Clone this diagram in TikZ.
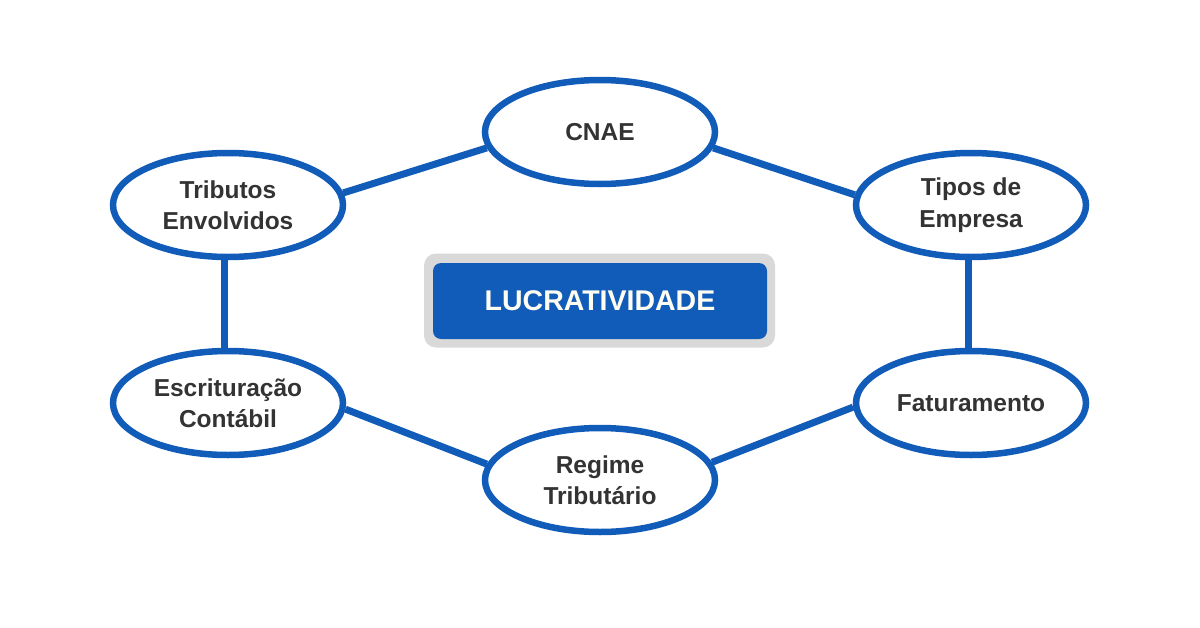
\documentclass[tikz,border=0pt]{standalone}
\usepackage{fontspec}
\setmainfont{Liberation Sans}
\usetikzlibrary{shapes.geometric}
\definecolor{mainblue}{HTML}{125CB9}
\definecolor{boxgray}{HTML}{D9D9D9}
\definecolor{txt}{HTML}{333333}
\definecolor{cream}{HTML}{FFFDF2}
\tikzset{
  topic/.style={ellipse, draw=mainblue, line width=6.5pt, fill=white,
    minimum width=230pt, minimum height=104pt, inner sep=0pt,
    align=center, text=txt, font=\fontsize{24.5}{31.5}\selectfont\bfseries},
  link/.style={draw=mainblue, line width=7pt},
}
\begin{document}
\begin{tikzpicture}[x=1pt,y=-1pt]
\useasboundingbox[fill=white] (0,0) rectangle (1200,627);
% centre box
\node[fill=boxgray, rounded corners=12pt, minimum width=351pt, minimum height=94pt, inner sep=0pt] (outer) at (599.5,300.5) {};
\node[fill=mainblue, rounded corners=8pt, minimum width=334pt, minimum height=76pt, inner sep=0pt,
  text=cream, font=\fontsize{28.5}{34}\selectfont\bfseries] (lucr) at (600,301) {LUCRATIVIDADE};
% topics
\node[topic] (cnae) at (600,132) {CNAE};
\node[topic] (tipos) at (971,205) {Tipos de\\Empresa};
\node[topic] (fat) at (971,403) {Faturamento};
\node[topic] (regime) at (600,480) {Regime\\Tributário};
\node[topic] (escr) at (228,403) {Escrituração\\Contábil};
\node[topic] (trib) at (228,205) {Tributos\\Envolvidos};
% connectors
\draw[link] (cnae.188) -- (trib.6);
\draw[link] (cnae.352) -- (tipos.175);
\draw[link] (tipos.267) -- (fat.93);
\draw[link] (fat.182.5) -- (regime.9);
\draw[link] (escr.357.5) -- (regime.172);
\draw[link] (trib.266) -- (escr.94);
\end{tikzpicture}
\end{document}
